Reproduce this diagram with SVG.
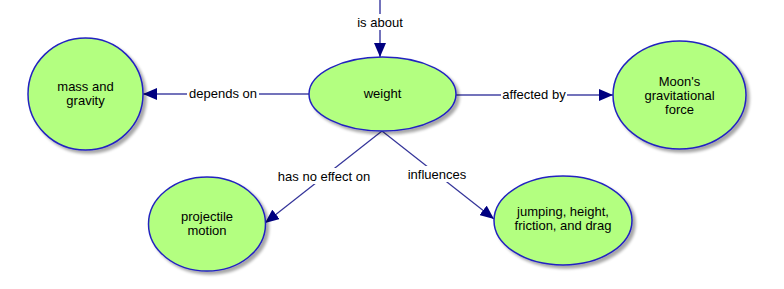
<svg xmlns="http://www.w3.org/2000/svg" width="784" height="289" viewBox="0 0 784 289">
<defs>
<filter id="sh" x="-20%" y="-20%" width="150%" height="150%">
<feGaussianBlur in="SourceAlpha" stdDeviation="1.5"/>
<feOffset dx="2.5" dy="2.5" result="b"/>
<feComponentTransfer><feFuncA type="linear" slope="0.35"/></feComponentTransfer>
<feMerge><feMergeNode/><feMergeNode in="SourceGraphic"/></feMerge>
</filter>
<marker id="ah" viewBox="0 0 14 12" refX="14" refY="6" markerWidth="14" markerHeight="12" markerUnits="userSpaceOnUse" orient="auto">
<path d="M0,0 L14,6 L0,12 Z" fill="#000080"/>
</marker>
</defs>
<style>
.node ellipse{fill:#b3ff80;stroke:#2323c0;stroke-width:1.5;filter:url(#sh)}
text{font-family:"Liberation Sans",Arial,sans-serif;font-size:13px;fill:#000;text-anchor:middle}
.c{stroke:#7373bb;stroke-width:2;fill:none}
.d{stroke:#333399;stroke-width:1.2;fill:none}
.lbg{fill:#fff}
</style>
<rect width="784" height="289" fill="#fff"/>
<g id="connectors">
<line class="c" x1="380" y1="0" x2="380" y2="57" marker-end="url(#ah)"/>
<line class="c" x1="309" y1="94" x2="143" y2="94" marker-end="url(#ah)"/>
<line class="c" x1="456" y1="95" x2="613" y2="95" marker-end="url(#ah)"/>
<line class="d" x1="382" y1="131" x2="265" y2="223" marker-end="url(#ah)"/>
<line class="d" x1="382" y1="131" x2="494" y2="219" marker-end="url(#ah)"/>
<rect class="lbg" x="353" y="14" width="54" height="16"/>
<text x="380" y="27">is about</text>
<rect class="lbg" x="187" y="86" width="72" height="16"/>
<text x="223" y="98">depends on</text>
<rect class="lbg" x="501" y="87" width="66" height="16"/>
<text x="534" y="99">affected by</text>
<rect class="lbg" x="275" y="168" width="98" height="16"/>
<text x="324" y="181">has no effect on</text>
<rect class="lbg" x="405" y="166" width="64" height="16"/>
<text x="437" y="179">influences</text>
</g>
<g id="n-mass" class="node">
<ellipse cx="85.5" cy="94" rx="57.5" ry="56"/>
<text x="85.5" y="91">mass and</text>
<text x="85.5" y="105">gravity</text>
</g>
<g id="n-weight" class="node">
<ellipse cx="382.5" cy="94" rx="73.5" ry="37"/>
<text x="382.5" y="98">weight</text>
</g>
<g id="n-moon" class="node">
<ellipse cx="679.5" cy="95" rx="66.5" ry="54"/>
<text x="679.5" y="86">Moon's</text>
<text x="679.5" y="100">gravitational</text>
<text x="679.5" y="114">force</text>
</g>
<g id="n-projectile" class="node">
<ellipse cx="207" cy="224" rx="58.5" ry="47"/>
<text x="207" y="221">projectile</text>
<text x="207" y="235">motion</text>
</g>
<g id="n-jumping" class="node">
<ellipse cx="563" cy="220.5" rx="69" ry="44.5"/>
<text x="563" y="216">jumping, height,</text>
<text x="563" y="230">friction, and drag</text>
</g>
</svg>
